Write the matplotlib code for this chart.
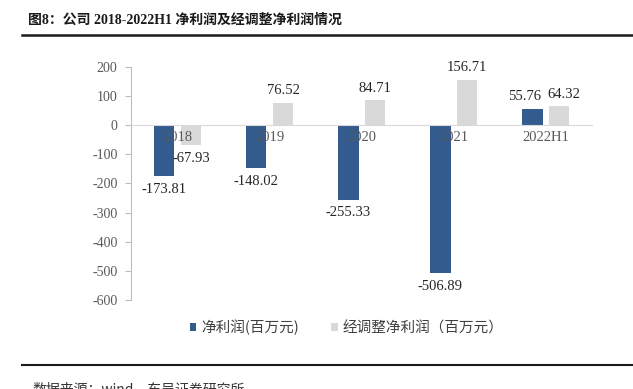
import matplotlib
matplotlib.use("Agg")
import matplotlib.pyplot as plt
import numpy as np

categories = ["2018", "2019", "2020", "2021", "2022H1"]
net_profit = [-173.81, -148.02, -255.33, -506.89, 55.76]
adj_net_profit = [-67.93, 76.52, 84.71, 156.71, 64.32]
series_names = ["净利润(百万元)", "经调整净利润（百万元）"]
title = "图8：公司 2018-2022H1 净利润及经调整净利润情况"
source = "数据来源：wind，东吴证券研究所"

serif = ["Liberation Serif", "Noto Sans CJK SC"]
cjk = ["Noto Sans CJK SC", "DejaVu Sans"]
blue = "#335B8E"
grey = "#D9D9D9"
tcol = "#595959"

fig = plt.figure(figsize=(6.33, 3.89), dpi=100)
ax = fig.add_axes([0.2077, 0.229, 0.7275, 0.599])

x = np.arange(len(categories))
w = 0.22
off = 0.145
b1 = ax.bar(x - off, net_profit, w, color=blue, label=series_names[0], zorder=1)
b2 = ax.bar(x + off, adj_net_profit, w, color=grey, label=series_names[1], zorder=1)
ax.set_axisbelow(False)

for s in ["top", "right"]:
    ax.spines[s].set_visible(False)
ax.spines["left"].set_color("#BFBFBF")
ax.spines["bottom"].set_position(("data", 0))
ax.spines["bottom"].set_color("#D9D9D9")

ax.set_ylim(-600, 200)
ax.set_xlim(-0.5, len(categories) - 0.5)
ax.set_yticks(np.arange(-600, 201, 100))
ax.set_yticklabels([str(int(v)) for v in np.arange(-600, 201, 100)])
ax.set_xticks(x)
ax.set_xticklabels(categories)
for t in ax.get_yticklabels():
    t.set_fontfamily(serif); t.set_fontsize(10); t.set_color(tcol)
for t in ax.get_xticklabels():
    t.set_fontfamily(serif); t.set_fontsize(10.5); t.set_color(tcol)
ax.tick_params(axis="x", length=0, pad=4)
ax.tick_params(axis="y", length=4, color="#BFBFBF", direction="out", pad=6)

# small manual nudges of label positions (points) to avoid overlaps, as in the reference
nudge = {(0, 4): -6, (1, 4): 3}
for si, (bars, vals) in enumerate([(b1, net_profit), (b2, adj_net_profit)]):
    for i, (r, v) in enumerate(zip(bars, vals)):
        cx = r.get_x() + r.get_width() / 2
        dx = nudge.get((si, i), 0)
        if v >= 0:
            ax.annotate(f"{v:.2f}", (cx, v), xytext=(dx, 4), textcoords="offset points",
                        ha="center", va="bottom", family=serif, fontsize=10.5, color="#262626")
        else:
            ax.annotate(f"{v:.2f}", (cx, v), xytext=(dx, -5), textcoords="offset points",
                        ha="center", va="top", family=serif, fontsize=10.5, color="#262626")

leg = fig.legend(handles=[b1, b2], labels=series_names, loc="center",
                 bbox_to_anchor=(0.548, 0.158), ncol=2, frameon=False,
                 prop={"family": cjk, "size": 10.5}, handlelength=0.45, handleheight=0.45,
                 handletextpad=0.35, columnspacing=2.2)
for t in leg.get_texts():
    t.set_color("#404040")

fig.text(0.044, 0.948, title, family=serif, fontsize=10, fontweight="bold",
         color="#1a1a1a", ha="left", va="center")
fig.add_artist(plt.Line2D([0.035, 1.0], [0.91, 0.91], color="#1a1a1a", lw=1.8))
fig.add_artist(plt.Line2D([0.035, 1.0], [0.062, 0.062], color="#1a1a1a", lw=1.5))
fig.text(0.052, 0.0, source, family=cjk, fontsize=10, color="#333333",
         ha="left", va="center")

fig.savefig("out.png", dpi=100)
